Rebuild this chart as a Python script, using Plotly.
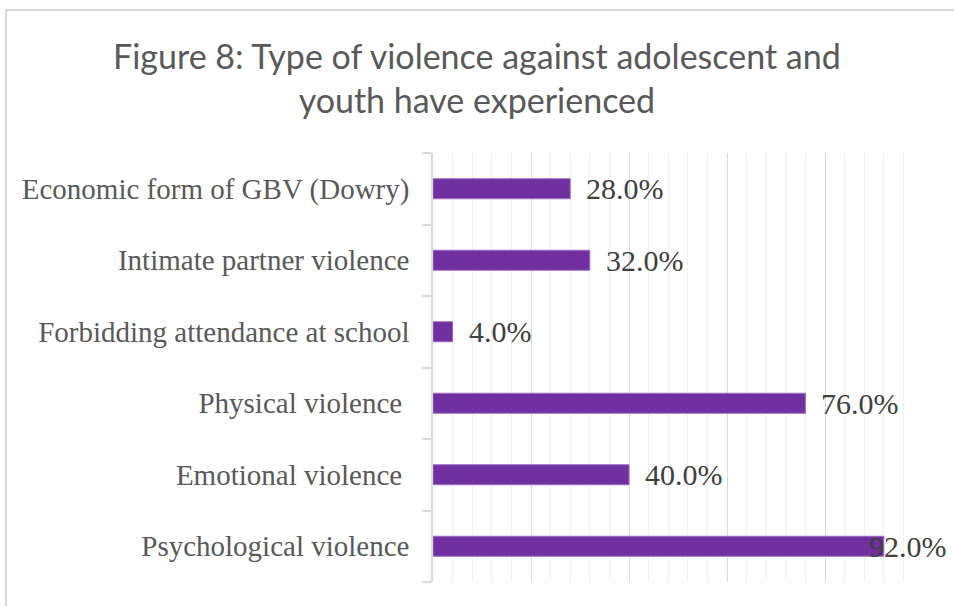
import plotly.graph_objects as go

# Categories listed bottom-to-top as they appear on the horizontal axis
categories = [
    "Psychological violence",
    "Emotional violence ",
    "Physical violence ",
    "Forbidding attendance at school",
    "Intimate partner violence",
    "Economic form of GBV (Dowry)",
]
shares = [0.92, 0.40, 0.76, 0.04, 0.32, 0.28]

title_lines = ["Figure 8: Type of violence against adolescent and", "youth have experienced"]

W, H = 954, 606
# plot area in pixels
x0_px, x1_px = 433, 923
y0_px, y1_px = 153, 582

BAR_COLOR = "#7030A0"
SERIF = "Liberation Serif"

fig = go.Figure(
    go.Bar(
        x=shares,
        y=categories,
        orientation="h",
        marker=dict(color=BAR_COLOR, line=dict(color="#9B6CC4", width=1)),
        width=0.28,
        hoverinfo="skip",
    )
)

# value labels at the bar ends
for cat, v in zip(categories, shares):
    near_edge = v > 0.85
    fig.add_annotation(
        x=v, y=cat, xref="x", yref="y",
        text=f"{v * 100:.1f}%",
        showarrow=False,
        xanchor="left",
        xshift=-17 if near_edge else 14,
        font=dict(family=SERIF, size=30, color="#404040"),
    )

fig.add_annotation(
    x=0.5, y=1 - 77 / H, xref="paper", yref="paper",
    text="<br>".join(title_lines),
    showarrow=False, xanchor="center", yanchor="middle",
    font=dict(family="Lato", size=34, color="#595959"),
)

# outer chart frame
frame = dict(color="#D6D6D6", width=2)
fig.add_shape(type="line", xref="paper", yref="paper",
              x0=6 / W, x1=1.0, y0=1 - 10 / H, y1=1 - 10 / H, line=frame)
fig.add_shape(type="line", xref="paper", yref="paper",
              x0=6 / W, x1=6 / W, y0=1 - 10 / H, y1=0, line=frame)

fig.update_layout(
    width=W, height=H,
    margin=dict(l=0, r=0, t=0, b=0),
    paper_bgcolor="white", plot_bgcolor="white",
    showlegend=False,
    bargap=0.72,
    xaxis=dict(
        domain=[x0_px / W, x1_px / W],
        range=[0, 1],
        dtick=0.2,
        showticklabels=False,
        showgrid=True, gridcolor="#D9D9D9", gridwidth=1.3,
        minor=dict(dtick=0.04, showgrid=True, gridcolor="#F0F0F0", gridwidth=1.3),
        zeroline=False, showline=False, fixedrange=True,
    ),
    yaxis=dict(
        domain=[1 - y1_px / H, 1 - y0_px / H],
        type="category",
        categoryorder="array", categoryarray=categories,
        showgrid=False,
        showline=True, linecolor="#D9D9D9", linewidth=1.5,
        ticks="outside", tickson="boundaries", ticklen=9, tickcolor="#D9D9D9", tickwidth=1.5,
        ticklabelstandoff=16,
        tickfont=dict(family=SERIF, size=29, color="#595959"),
        zeroline=False, fixedrange=True,
    ),
)

fig.write_html("out.html")
